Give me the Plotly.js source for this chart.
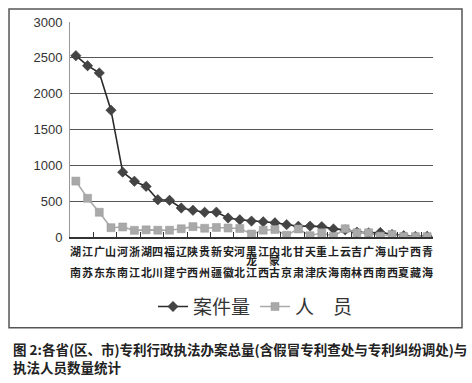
<!DOCTYPE html>
<html>
<head>
<meta charset="utf-8">
<script src="https://cdn.plot.ly/plotly-3.0.1.min.js"></script>
<style>html,body{margin:0;padding:0;background:#fff;}#chart{width:472px;height:383px;}</style>
</head>
<body>
<div id="chart"></div>
<script>
var provinces = ['湖南','江苏','广东','山东','河南','浙江','湖北','四川','福建','辽宁','陕西','贵州','新疆','安徽','河北','黑龙江','江西','内蒙古','北京','甘肃','天津','重庆','上海','云南','吉林','广西','海南','山西','宁夏','西藏','青海'];
var cases = [2530, 2390, 2290, 1770, 905, 778, 706, 520, 512, 405, 373, 345, 347, 265, 240, 222, 212, 198, 172, 150, 152, 145, 113, 100, 68, 58, 62, 35, 18, 8, 10];
var persons = [780, 540, 345, 130, 140, 93, 100, 95, 95, 115, 145, 122, 133, 125, 119, 42, 95, 105, 25, 112, 18, 59, 8, 115, 59, 59, 12, 35, 8, 5, 5];
var seriesNames = ['案件量', '人　员'];
var yTicks = [0, 500, 1000, 1500, 2000, 2500, 3000];
var captionText = '图 2:各省(区、市)专利行政执法办案总量(含假冒专利查处与专利纠纷调处)与<br>执法人员数量统计';

var traces = [
  {x: provinces, y: cases, name: seriesNames[0], type: 'scatter', mode: 'lines+markers',
   line: {color: '#2b2b2b', width: 1.6},
   marker: {symbol: 'diamond', size: 8, color: '#444', line: {color: '#333', width: 0.5}}},
  {x: provinces, y: persons, name: seriesNames[1], type: 'scatter', mode: 'lines+markers',
   line: {color: '#aaaaaa', width: 1.6},
   marker: {symbol: 'square', size: 8, color: '#a9a9a9', line: {color: '#999', width: 0.5}}}
];

var rowY = [-0.0674, -0.1093, -0.1605];
var annotations = [];
provinces.forEach(function(p){
  var chars = p.split('');
  var rows;
  if (chars.length === 3) rows = [[chars[0], 0], [chars[1], 1], [chars[2], 2]];
  else rows = [[chars[0], 0], [chars[1], 2]];
  rows.forEach(function(r){
    annotations.push({x: p, xref: 'x', y: rowY[r[1]], yref: 'paper', text: r[0], showarrow: false,
      xanchor: 'center', yanchor: 'middle', borderpad: 0,
      font: {family: 'Noto Sans CJK SC, sans-serif', size: 11, color: '#222', weight: 'bold'}});
  });
});
annotations.push({x: -0.1625, xref: 'paper', y: -0.5648, yref: 'paper', text: '<b>' + captionText.replace('<br>', '</b><br><b>') + '</b>',
  showarrow: false, xanchor: 'left', yanchor: 'middle', align: 'left',
  font: {family: 'Noto Sans CJK SC, sans-serif', size: 13.5, color: '#222'}});

var layout = {
  width: 472, height: 383,
  margin: {l: 70, r: 39, t: 22, b: 146, pad: 0},
  paper_bgcolor: '#fff', plot_bgcolor: '#fff',
  showlegend: true,
  legend: {orientation: 'h', x: 0.511, xanchor: 'center', y: -0.324, yanchor: 'middle',
    font: {family: 'Noto Sans CJK SC, sans-serif', size: 19, color: '#333'}, bgcolor: 'rgba(0,0,0,0)'},
  xaxis: {type: 'category', categoryarray: provinces, range: [-0.5, 30.5], autorange: false,
    showline: true, linecolor: '#333', linewidth: 1.5,
    ticks: 'inside', ticklen: 5, tickcolor: '#333', tickson: 'boundaries', showticklabels: false,
    showgrid: false, zeroline: false, fixedrange: true},
  yaxis: {range: [0, 3000], autorange: false, tickvals: yTicks, showgrid: true, gridcolor: '#555', gridwidth: 1.2,
    showline: true, linecolor: '#999', linewidth: 1, zeroline: false,
    ticks: 'outside', ticklen: 4, tickcolor: 'rgba(0,0,0,0)',
    tickfont: {family: 'Liberation Sans, Arial, sans-serif', size: 13, color: '#333'}},
  shapes: [{type: 'rect', xref: 'paper', yref: 'paper', x0: -0.168, x1: 1.0799, y0: -0.4219, y1: 1.0605,
    line: {color: '#555', width: 1.5}, fillcolor: 'rgba(0,0,0,0)'}],
  annotations: annotations
};

Plotly.newPlot('chart', traces, layout, {displayModeBar: false, staticPlot: true});
</script>
</body>
</html>
